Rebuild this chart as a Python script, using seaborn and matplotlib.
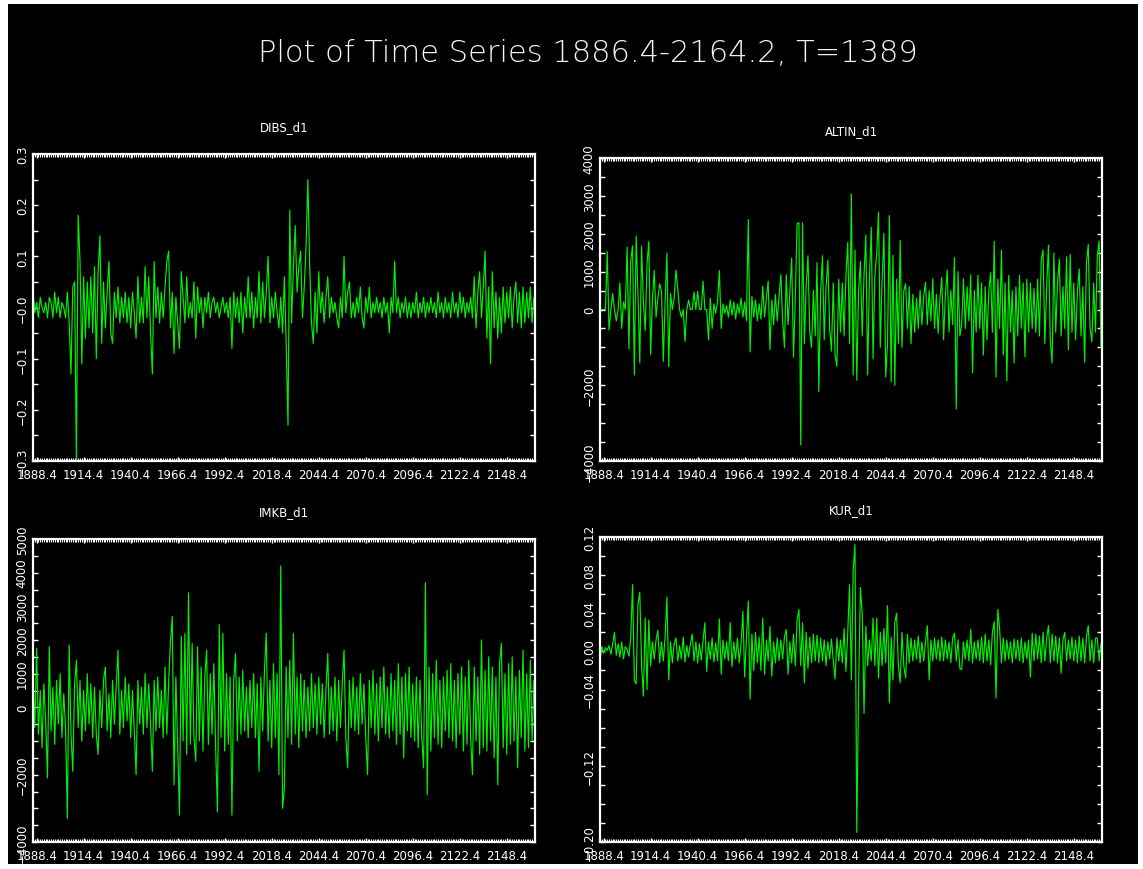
import numpy as np
import pandas as pd
import matplotlib
matplotlib.use("Agg")
import matplotlib.pyplot as plt
import matplotlib.ticker as mticker
from matplotlib.patches import Rectangle
import seaborn as sns

# series: 1886.4 - 2164.2, 5 periods a year, T = 1389
T = 1389
STEP = 5  # values below are read once per year (every 5th observation)
TITLE = "Plot of Time Series 1886.4-2164.2, T=1389"
XTICK_LABELS = ["1888.4", "1914.4", "1940.4", "1966.4", "1992.4",
                "2018.4", "2044.4", "2070.4", "2096.4", "2122.4", "2148.4"]

dibs_d1 = [
    0.03, -0.01, 0.01, -0.02, 0.02, 0.00, -0.01, 0.01, -0.02, 0.02,
    0.01, -0.02, 0.03, -0.01, 0.02, -0.02, 0.01, 0.00, -0.02, 0.03,
    -0.03, -0.13, 0.04, 0.05, -0.30, 0.18, 0.09, -0.11, 0.06, -0.06,
    0.05, -0.04, 0.06, -0.05, 0.08, -0.10, 0.07, 0.14, -0.07, 0.05,
    -0.04, 0.03, 0.09, -0.05, -0.07, 0.03, -0.02, 0.04, -0.03, 0.02,
    -0.02, 0.03, -0.03, 0.02, -0.04, 0.03, -0.01, -0.06, 0.06, -0.03,
    0.02, -0.03, 0.08, -0.02, 0.06, -0.05, -0.13, 0.09, -0.02, 0.04,
    -0.03, 0.03, -0.02, 0.04, 0.09, 0.11, -0.04, 0.03, -0.09, 0.02,
    -0.03, -0.08, 0.07, 0.02, -0.03, 0.06, -0.02, 0.01, -0.02, 0.05,
    -0.06, 0.04, -0.01, 0.02, -0.04, 0.02, -0.01, 0.03, -0.02, 0.01,
    0.02, -0.01, 0.01, -0.02, 0.00, 0.02, -0.01, 0.01, -0.02, 0.02,
    -0.08, 0.03, -0.02, 0.02, -0.03, 0.03, -0.05, 0.02, -0.02, 0.06,
    -0.02, 0.03, -0.04, 0.02, -0.02, 0.07, -0.03, 0.05, -0.02, 0.03,
    0.10, -0.03, 0.02, -0.02, 0.03, -0.01, -0.04, 0.02, -0.05, 0.06,
    -0.07, -0.23, 0.19, -0.03, 0.08, 0.16, 0.03, 0.08, 0.11, -0.02,
    0.04, 0.12, 0.25, 0.08, -0.03, -0.07, 0.03, -0.05, 0.07, -0.01,
    0.03, -0.03, 0.02, 0.06, -0.02, 0.02, -0.01, 0.01, -0.02, -0.04,
    0.02, -0.02, 0.10, -0.01, 0.03, 0.05, -0.02, 0.01, -0.02, 0.02,
    -0.01, 0.04, -0.02, -0.04, 0.02, -0.01, 0.04, -0.02, 0.01, -0.01,
    0.02, -0.01, 0.01, -0.02, 0.02, -0.01, 0.01, -0.05, 0.02, -0.01,
    0.09, -0.01, 0.02, -0.02, 0.01, -0.01, 0.02, -0.02, 0.01, -0.02,
    0.01, -0.01, 0.03, -0.02, 0.01, -0.01, 0.02, -0.02, 0.01, -0.01,
    0.02, -0.01, 0.01, -0.02, 0.03, -0.01, 0.01, -0.02, 0.02, -0.01,
    0.01, -0.02, 0.03, -0.01, 0.01, -0.02, 0.03, -0.01, 0.02, -0.02,
    0.01, -0.01, 0.02, -0.02, 0.06, -0.04, 0.03, 0.07, -0.02, 0.04,
    0.11, -0.06, 0.04, -0.11, 0.07, -0.04, 0.03, -0.06, 0.02, -0.05,
    0.04, -0.03, 0.03, -0.02, 0.04, -0.04, 0.02, 0.05, -0.03, 0.03,
    -0.04, 0.04, -0.03, 0.03, -0.02, 0.04, -0.03, 0.02,
]

altin_d1 = [
    0, 0, 0, 0, 1530, -540, 0, 420, 0, -300,
    0, 700, -500, 200, 0, 1650, -1040, 1290, 1680, -1730,
    1940, 390, -1410, 1680, 200, -560, 1200, 1800, -1190, 300,
    1030, -200, 300, 680, 500, -1370, 200, 1490, -1510, 420,
    0, 300, 1040, 550, 0, -200, 0, -840, 0, 250,
    0, 0, 460, 0, 480, 0, 0, 750, 0, 0,
    -800, 300, -500, 150, -100, 200, 1030, -500, 150, -100,
    100, -200, 250, -150, 200, -250, 150, -100, 300, -200,
    200, -300, 2375, -1120, 350, -200, 250, -300, 150, -250,
    620, -200, 300, 750, -1060, 250, -400, 400, -300, 350,
    920, -300, -1000, 920, -400, 500, 1360, -1260, 300, 2270,
    2290, -3580, 2290, -900, 600, 1420, -600, -1000, 500, -700,
    1240, -2170, 400, 1420, -800, 600, 1300, -500, -1100, 700,
    -1200, -1500, 800, -600, 700, -700, 900, 1770, -900, 3050,
    -1730, 1570, -1870, 500, 1270, -700, 900, 1970, -1730, 800,
    2170, -1300, 900, 1460, 2570, -1000, 800, 2010, -1780, -900,
    2480, -1910, 1430, -2000, 800, -900, 1830, -1000, 500, 680,
    -500, 600, -900, 400, -600, 300, -500, 500, -400, 350,
    720, -400, 500, -300, 810, -500, 400, -630, 300, 850,
    -800, 400, 1040, -600, 500, -400, 1370, -2630, 1000, -700,
    -400, 810, -500, 600, -300, 920, -1670, 500, -600, 900,
    -500, 700, -1200, 600, -800, 500, 970, -600, 1800, -1780,
    800, -500, 1570, -1200, 700, -1890, 900, -600, 500, -1410,
    600, -700, 900, -500, 700, -1250, 800, -600, 700, -500,
    550, -600, 800, -700, 1310, 1570, -900, 600, 1700, -800,
    -1410, 1490, -600, 700, 1330, -700, 600, -500, 1390, -1060,
    1460, -600, 700, -800, 500, 1070, -700, 600, -1390, 1230,
    1720, -500, -850, 700, -600, 1420, 1810, -1000,
]

imkb_d1 = [
    900, -600, 1750, -800, 500, -1200, 700, -400, -2100, 1800,
    -700, 600, -1100, 800, -500, 1000, -900, 400, -600, -3300,
    1850, -800, -1900, 700, 1400, -600, 800, -1000, 500, -700,
    1000, -500, 700, -900, 600, -800, -1400, 500, -600, 800,
    1200, -700, 400, -900, 800, -500, 600, 1700, -800, 500,
    -600, 900, -400, 700, -900, 500, -700, -2000, 800, -500,
    600, -800, 1000, -600, 700, -500, -1900, 800, -700, 900,
    -600, 500, -900, 1200, -800, 700, 1950, 2700, -2300, 900,
    -1200, -3200, 2100, -1000, 2200, -1400, 3400, -1100, 1900, -900,
    -1600, 1800, -1000, 1200, -1300, 900, 1700, -1100, 1000, -800,
    1300, -1200, -3100, 2450, -900, 2200, -1300, 1000, -1100, 900,
    -3200, 800, 1600, -1000, 900, -800, 1100, -700, 600, -900,
    800, -600, 1000, -900, 700, -1900, 900, -700, 1100, 2200,
    -1000, 800, -1200, 1300, -900, 1000, -2000, 4200, -3000, -2400,
    1200, -900, 1400, -1100, 2200, -800, 900, -1200, 1000, -700,
    800, -900, 600, -700, 1000, -600, 700, -800, 900, -500,
    700, -900, 500, 1600, -800, 600, -700, 900, -1000, 800,
    -600, 700, 1700, -900, -1800, 800, -600, 900, -700, 600,
    -800, 1000, -500, 700, -900, -2000, 800, -600, 1100, -800,
    700, -1000, 900, -600, 1200, -800, 600, -900, 1000, -700,
    800, -1100, 1300, -800, 900, -1500, 1000, -700, 1200, -900,
    700, -1000, 900, -1200, 800, -900, -1800, 3700, -2600, 1200,
    -1300, 1000, -900, 1400, -1100, 800, -1200, 900, -700, 1100,
    -900, 1300, -1000, 800, -1200, 1000, -800, 1200, -1300, 900,
    -1100, 1400, -900, -2000, 1200, -1000, 900, -1400, 2000, -1200,
    1100, -1300, 1500, -1000, 1200, -1500, 900, -2300, 1300, 1900,
    -1200, 1000, -1400, 1300, -1100, 1500, -1000, 900, -1800, 1100,
    -900, 1700, -1300, 1000, -1200, 1400, -1000, 800,
]

kur_d1 = [
    -0.010, 0.005, -0.002, 0.004, 0.001, 0.006, -0.003, 0.008, 0.020, -0.004,
    0.008, -0.006, 0.010, -0.008, 0.005, 0.002, -0.005, 0.015, 0.070, -0.030,
    -0.034, 0.050, 0.062, -0.015, -0.047, 0.035, -0.040, 0.033, -0.015, 0.010,
    -0.008, 0.012, 0.022, -0.012, 0.010, -0.010, 0.015, 0.057, -0.030, 0.010,
    -0.012, 0.008, 0.014, -0.010, 0.006, -0.008, 0.015, -0.011, 0.006, -0.006,
    0.008, 0.018, -0.010, 0.010, -0.012, 0.008, -0.009, 0.012, 0.030, -0.021,
    0.010, -0.008, 0.014, -0.011, 0.009, -0.010, 0.034, -0.024, 0.012, -0.008,
    0.010, -0.010, 0.030, -0.016, 0.010, -0.008, 0.014, -0.012, 0.008, 0.042,
    -0.027, 0.015, 0.053, -0.050, 0.018, -0.020, 0.020, -0.012, 0.015, -0.020,
    0.035, -0.024, 0.012, -0.010, 0.026, -0.026, 0.010, -0.012, 0.014, -0.010,
    0.012, -0.008, 0.015, 0.023, -0.024, 0.010, -0.012, 0.018, -0.015, 0.033,
    0.044, -0.015, 0.030, -0.033, 0.020, -0.018, 0.015, -0.012, 0.018, -0.010,
    0.017, -0.012, 0.014, -0.010, 0.012, -0.015, 0.010, -0.008, 0.013, -0.010,
    -0.029, 0.014, -0.010, 0.012, -0.012, 0.024, -0.021, 0.020, 0.070, -0.030,
    0.085, 0.112, -0.190, -0.040, 0.067, 0.040, -0.065, 0.026, -0.015, 0.012,
    -0.010, 0.035, -0.015, 0.035, -0.028, 0.020, -0.015, 0.024, -0.012, 0.048,
    -0.054, 0.015, -0.030, 0.030, 0.040, -0.015, -0.033, 0.020, -0.015, -0.028,
    0.018, -0.012, 0.014, -0.010, 0.012, -0.008, 0.016, -0.012, 0.010, -0.010,
    0.010, 0.027, -0.030, 0.012, -0.010, 0.014, -0.008, 0.012, -0.010, 0.015,
    -0.010, 0.012, -0.008, 0.010, -0.012, 0.014, 0.019, -0.010, 0.012, -0.018,
    -0.019, 0.010, -0.008, 0.012, -0.010, 0.023, -0.012, 0.010, -0.008, 0.012,
    -0.010, 0.015, -0.012, 0.018, -0.010, 0.012, -0.014, 0.020, 0.031, -0.049,
    0.044, 0.023, -0.012, 0.014, -0.010, 0.012, -0.008, 0.010, -0.012, 0.013,
    -0.008, 0.012, -0.010, 0.014, -0.012, 0.010, -0.008, 0.012, -0.027, 0.019,
    -0.010, 0.018, -0.008, 0.016, -0.012, 0.020, -0.010, 0.014, 0.027, -0.012,
    0.018, -0.010, 0.016, -0.012, 0.014, -0.023, 0.012, 0.020, -0.010, 0.012,
    -0.008, 0.015, -0.010, 0.012, -0.012, 0.016, -0.010, 0.014, -0.012, 0.015,
    0.027, -0.010, 0.012, -0.012, 0.014, 0.014, -0.010, 0.008,
]

# y tick labels that the original prints (the others are left blank)
DIBS_LABELS = {0.3: "0.3", 0.2: "0.2", 0.1: "0.1", 0.0: "\u22120.0",
               -0.1: "\u22120.1", -0.2: "\u22120.2", -0.3: "\u22120.3"}
ALTIN_LABELS = {4000: "4000", 3000: "3000", 2000: "2000", 1000: "1000", 0: "0",
                -2000: "\u22122000", -4000: "\u22124000"}
IMKB_LABELS = {5000: "5000", 4000: "4000", 3000: "3000", 2000: "2000", 1000: "1000",
               0: "0", -2000: "\u22122000", -4000: "\u22124000"}
KUR_LABELS = {0.12: "0.12", 0.08: "0.08", 0.04: "0.04", 0.0: "0.00",
              -0.04: "\u22120.04", -0.12: "\u22120.12", -0.20: "\u22120.20"}

W, H = 1143, 870
FG = "#ffffff"
GREEN = "#00f000"

sns.set_style("dark", rc={"axes.facecolor": "black", "figure.facecolor": "black",
                          "axes.edgecolor": FG, "text.color": FG,
                          "xtick.color": FG, "ytick.color": FG})
plt.rcParams["font.family"] = ["DejaVu Sans"]

fig = plt.figure(figsize=(W / 100, H / 100), dpi=100)
fig.patch.set_facecolor("white")
fig.patches.append(Rectangle((8 / W, 5 / H), (W - 13) / W, (H - 10) / H,
                             transform=fig.transFigure, facecolor="black",
                             edgecolor="none", zorder=-10))

fig.text(0.514, 1 - 53 / H, TITLE, ha="center", va="center", fontsize=22,
         fontweight="light", color="#f4f4f4")

panels = [
    ("DIBS_d1", dibs_d1, (-0.3, 0.3), 0.05, DIBS_LABELS, (33, 155, 535, 462)),
    ("ALTIN_d1", altin_d1, (-4000, 4000), 500, ALTIN_LABELS, (600, 159, 1102, 462)),
    ("IMKB_d1", imkb_d1, (-4000, 5000), 500, IMKB_LABELS, (33, 540, 535, 843)),
    ("KUR_d1", kur_d1, (-0.2, 0.12), 0.02, KUR_LABELS, (600, 538, 1102, 843)),
]

for name, vals, ylim, ystep, labels, (x0, y0, x1, y1) in panels:
    ax = fig.add_axes([x0 / W, 1 - y1 / H, (x1 - x0) / W, (y1 - y0) / H])
    df = pd.DataFrame({"obs": np.arange(len(vals)) * STEP, name: vals})
    sns.lineplot(data=df, x="obs", y=name, ax=ax, color=GREEN, lw=0.85,
                 errorbar=None, estimator=None)
    ax.set_xlim(0, T - 1)
    ax.set_ylim(*ylim)
    ax.set_xlabel("")
    ax.set_ylabel("")
    ax.set_title(name, fontsize=8.5, color=FG, pad=17)

    # x: labelled ticks every 26 years, small ticks every year
    xt = 10 + 130 * np.arange(len(XTICK_LABELS))
    ax.set_xticks(xt)
    ax.set_xticklabels(XTICK_LABELS)
    ax.xaxis.set_minor_locator(mticker.MultipleLocator(STEP))
    # y: ticks every ystep, only some labelled
    yt = np.round(np.arange(ylim[0], ylim[1] + ystep / 2, ystep), 6)
    ax.set_yticks(yt)
    ax.set_yticklabels([labels.get(round(float(v), 6), "") for v in yt])

    ax.tick_params(axis="x", which="both", direction="in", top=True, bottom=True,
                   color=FG, labelsize=8.5, labelcolor=FG, pad=5)
    ax.tick_params(axis="x", which="major", length=3, width=1)
    ax.tick_params(axis="x", which="minor", length=2.5, width=0.8)
    ax.tick_params(axis="y", which="major", direction="in", left=True, right=True,
                   length=3.5, width=1, color=FG, labelsize=8.5, labelcolor=FG,
                   pad=3)
    for lab in ax.get_yticklabels():
        lab.set_rotation(90)
        lab.set_va("center")
    for sp in ax.spines.values():
        sp.set_color(FG)
        sp.set_linewidth(1.6)
        sp.set_visible(True)
    ax.grid(False)

fig.savefig("out.png", dpi=100, facecolor=fig.get_facecolor())
